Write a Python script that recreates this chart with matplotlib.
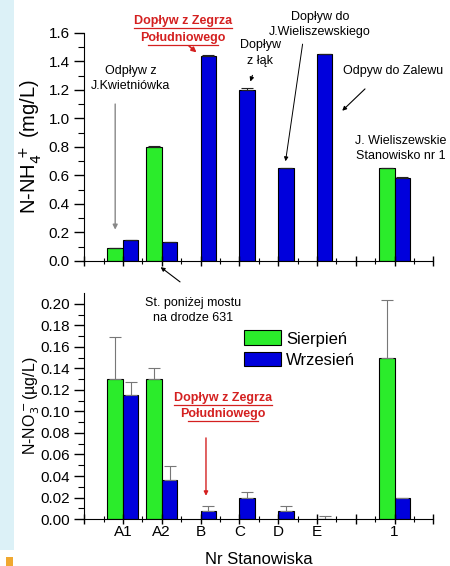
import numpy as np
import matplotlib
matplotlib.use('Agg')
import matplotlib.pyplot as plt
from matplotlib.patches import Rectangle
from matplotlib.lines import Line2D

plt.rcParams['font.family'] = ['Liberation Sans', 'DejaVu Sans']

# data
stations = ['A1', 'A2', 'B', 'C', 'D', 'E', '1']
x_pos = [1, 2, 3, 4, 5, 6, 8]

# N-NH4+ (mg/L)
nh4_sierpien = [0.09, 0.80, 0, 0, 0, 0, 0.655]
nh4_sierpien_err = [0.004, 0.004, 0, 0, 0, 0, 0.0]
nh4_wrzesien = [0.15, 0.13, 1.44, 1.20, 0.65, 1.45, 0.585]
nh4_wrzesien_err = [0.0, 0.0, 0.004, 0.01, 0.005, 0.004, 0.006]

# N-NO3- (ug/L)
no3_sierpien = [0.13, 0.13, 0, 0, 0, 0, 0.15]
no3_sierpien_err = [0.039, 0.010, 0, 0, 0, 0, 0.054]
no3_wrzesien = [0.115, 0.036, 0.007, 0.020, 0.007, 0.0, 0.020]
no3_wrzesien_err = [0.012, 0.013, 0.005, 0.005, 0.005, 0.003, 0.0]

green = '#2bec2b'
blue = '#0000dc'
w = 0.4

fig = plt.figure(figsize=(4.5, 5.66), dpi=100)

# light blue strip on the left + orange bit
fig.patches.append(Rectangle((0, 16/566), 14/450, 1 - 16/566, transform=fig.transFigure,
                             facecolor='#dcf1f7', edgecolor='none', zorder=0))
fig.patches.append(Rectangle((6/450, 0), 7/450, 9/566, transform=fig.transFigure,
                             facecolor='#f0a830', edgecolor='none', zorder=0))

ax1 = fig.add_axes([0.187, 0.539, 0.776, 0.403])
ax2 = fig.add_axes([0.187, 0.083, 0.776, 0.399])

xs = np.array(x_pos)


def draw_bars(ax, s, s_err, wz, wz_err, ecol):
    mask_s = np.array(s) > 0
    ax.bar(xs[mask_s] - w/2, np.array(s)[mask_s], width=w, color=green,
           edgecolor='black', linewidth=0.8, label='Sierpień',
           yerr=[np.zeros(mask_s.sum()), np.array(s_err)[mask_s]],
           error_kw=dict(ecolor=ecol, elinewidth=0.8, capsize=4, capthick=0.8))
    ax.bar(xs + w/2, wz, width=w, color=blue, edgecolor='black', linewidth=0.8,
           label='Wrzesień',
           yerr=[np.zeros(len(wz)), wz_err],
           error_kw=dict(ecolor=ecol, elinewidth=0.8, capsize=4, capthick=0.8))


draw_bars(ax1, nh4_sierpien, nh4_sierpien_err, nh4_wrzesien, nh4_wrzesien_err, '#222222')
draw_bars(ax2, no3_sierpien, no3_sierpien_err, no3_wrzesien, no3_wrzesien_err, '#777777')

for ax in (ax1, ax2):
    ax.spines['top'].set_visible(False)
    ax.spines['right'].set_visible(False)
    ax.set_xlim(0, 9)
    ax.set_xticks(range(0, 10))
    ax.set_xticks(np.arange(0.5, 9, 1), minor=True)
    ax.tick_params(axis='both', which='major', direction='inout', length=7, width=1,
                   labelsize=11)
    ax.tick_params(axis='both', which='minor', direction='inout', length=4, width=0.8)
    ax.tick_params(axis='y', which='both', direction='out')
    ax.tick_params(axis='x', which='major', pad=1)

ax1.set_ylim(0, 1.6)
ax1.set_yticks(np.arange(0, 1.61, 0.2))
ax1.set_yticks(np.arange(0.1, 1.6, 0.2), minor=True)
ax1.set_yticklabels(['%.1f' % v for v in np.arange(0, 1.61, 0.2)])
ax1.set_xticklabels([])
ax1.set_ylabel('N-NH$_4^{\\,+}$ (mg/L)', fontsize=14.5)
ax1.yaxis.set_label_coords(-0.115, 0.5)

ax2.set_ylim(0, 0.21)
ax2.set_yticks(np.arange(0, 0.201, 0.02))
ax2.set_yticks(np.arange(0.01, 0.21, 0.02), minor=True)
ax2.set_yticklabels(['%.2f' % v for v in np.arange(0, 0.201, 0.02)])
tick_labels = ['', 'A1', 'A2', 'B', 'C', 'D', 'E', '', '1', '']
ax2.set_xticklabels(tick_labels)
ax2.set_xlabel('Nr Stanowiska', fontsize=12, labelpad=9)
ax2.set_ylabel('N-NO$_3^-$(µg/L)', fontsize=11.5)
ax2.yaxis.set_label_coords(-0.12, 0.5)

ax2.legend(loc='upper left', bbox_to_anchor=(0.44, 0.865), frameon=False, fontsize=12,
           handlelength=2.2, handleheight=1.0, handletextpad=0.3, labelspacing=0.3,
           borderaxespad=0)

# annotations top panel
fs = 9
ax1.annotate('', xy=(0.8, 0.2), xytext=(0.8, 1.12),
             arrowprops=dict(arrowstyle='-|>', color='#888888', lw=1, mutation_scale=7))
ax1.text(1.2, 1.28, 'Odpływ z\nJ.Kwietniówka', ha='center', va='center', fontsize=fs,
         linespacing=1.3)

red1 = ax1.text(2.55, 1.625, 'Dopływ z Zegrza\nPołudniowego', ha='center', va='center',
                fontsize=fs, color='#d42020', fontweight='bold', linespacing=1.5,
                clip_on=False)
ax1.annotate('', xy=(2.95, 1.45), xytext=(2.65, 1.52), annotation_clip=False,
             arrowprops=dict(arrowstyle='-|>', color='#d42020', lw=1.2, mutation_scale=7))

ax1.text(4.54, 1.46, 'Dopływ\nz łąk', ha='center', va='center', fontsize=fs,
         linespacing=1.45)
ax1.annotate('', xy=(4.26, 1.24), xytext=(4.36, 1.32),
             arrowprops=dict(arrowstyle='-|>', color='black', lw=0.8, mutation_scale=6))

ax1.text(6.08, 1.66, 'Dopływ do\nJ.Wieliszewskiego', ha='center', va='center', fontsize=fs,
         linespacing=1.3, clip_on=False)
ax1.annotate('', xy=(5.18, 0.68), xytext=(5.64, 1.54), annotation_clip=False,
             arrowprops=dict(arrowstyle='-|>', color='black', lw=0.7, mutation_scale=6))

ax1.text(7.96, 1.33, 'Odpyw do Zalewu', ha='center', va='center', fontsize=fs)
ax1.annotate('', xy=(6.6, 1.04), xytext=(7.29, 1.22),
             arrowprops=dict(arrowstyle='-|>', color='black', lw=0.8, mutation_scale=6))

ax1.text(8.16, 0.79, 'J. Wieliszewskie\nStanowisko nr 1', ha='center', va='center',
         fontsize=fs, linespacing=1.3, clip_on=False)

# annotation spanning both panels
fig.text(0.429, 0.452, 'St. poniżej mostu\nna drodze 631', ha='center', va='center',
         fontsize=fs, linespacing=1.3)
ax1.annotate('', xy=(0.352, 0.531), xytext=(0.405, 0.499), xycoords='figure fraction',
             textcoords='figure fraction', annotation_clip=False,
             arrowprops=dict(arrowstyle='-|>', color='black', lw=0.8, mutation_scale=6))

# bottom panel red annotation
red2 = ax2.text(3.58, 0.105, 'Dopływ z Zegrza\nPołudniowego', ha='center', va='center',
                fontsize=fs, color='#d42020', fontweight='bold', linespacing=1.5)
ax2.annotate('', xy=(3.14, 0.019), xytext=(3.14, 0.078),
             arrowprops=dict(arrowstyle='-|>', color='#d42020', lw=1, mutation_scale=6))

# underline the red labels
fig.canvas.draw()
r = fig.canvas.get_renderer()
inv = fig.transFigure.inverted()
for t in (red1, red2):
    bb = t.get_window_extent(renderer=r)
    h = bb.height / 2
    for yy in (bb.y0 + h + 1, bb.y0 - 1):
        (x0, y0) = inv.transform((bb.x0, yy))
        (x1, _) = inv.transform((bb.x1, yy))
        if yy < bb.y0:
            (x0, y0) = inv.transform((bb.x0 + bb.width * 0.14, yy))
            (x1, _) = inv.transform((bb.x1 - bb.width * 0.14, yy))
        fig.add_artist(Line2D([x0, x1], [y0, y0], color='#d42020', lw=0.9,
                              transform=fig.transFigure))

fig.savefig('out.png', dpi=100)
